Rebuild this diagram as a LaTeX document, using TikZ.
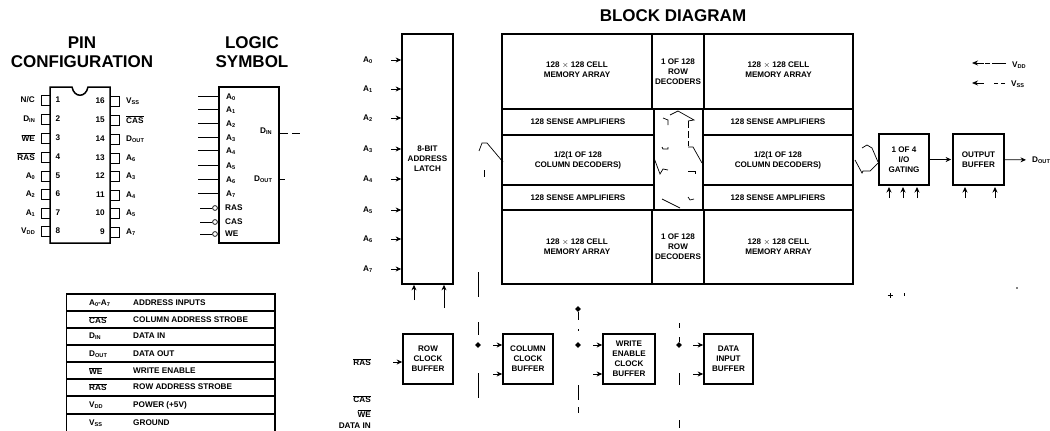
\documentclass[tikz,border=0pt]{standalone}
\usepackage{fontspec}
\setmainfont{Liberation Sans}
\usetikzlibrary{arrows.meta,calc,shapes.geometric}
\newcommand{\lo}[1]{\raisebox{-0.3ex}{\fontsize{5.6}{6}\selectfont #1}}
\newcommand{\ov}[1]{$\overline{\mbox{#1}}$}
\tikzset{
  txt/.style={font=\bfseries\fontsize{8.2}{10}\selectfont,inner sep=0pt,align=center},
  lab/.style={txt},
  ttl/.style={font=\bfseries\fontsize{17}{19}\selectfont,inner sep=0pt,align=center},
  cell/.style={draw,line width=1.7pt,inner sep=0pt,align=center,font=\bfseries\fontsize{8.1}{10}\selectfont},
  ic/.style={draw,line width=1.5pt,inner sep=0pt},
  arr/.style={line width=.8pt,-{Stealth[length=5.5pt,width=5pt]}},
  thin line/.style={line width=.5pt},
  frag/.style={line width=.7pt},
  brk/.style={line width=.5pt,dash pattern=on 7pt off 3pt},
  tdot/.style={diamond,fill,inner sep=0pt,minimum size=6pt},
}
\begin{document}
\begin{tikzpicture}[x=1pt,y=-1pt]
\path[use as bounding box,fill=white] (0,0) rectangle (1050,431);
% ---------- titles
\node[ttl] (tpin) at (82,52.5) {PIN\\CONFIGURATION};
\node[ttl] (tlog) at (252,52.5) {LOGIC\\SYMBOL};
\node[font=\bfseries\fontsize{17}{19}\selectfont,inner sep=0pt] (tblk) at (673,15.5) {BLOCK DIAGRAM};
% ---------- pin configuration
\draw[line width=1.5pt] (50,87) -- (72,87) .. controls (74,98) and (86,98) .. (88,87) -- (110,87) -- (110,243) -- (50,243) -- cycle;
\foreach \y/\n/\l in {100/1/N{/}C,119/2/D\lo{IN},138/3/\ov{WE},157/4/\ov{RAS},176/5/A\lo{0},194/6/A\lo{2},213/7/A\lo{1},231/8/V\lo{DD}}{
  \draw[line width=.8pt] (50,\y-5) -| (41.5,\y+5) -- (50,\y+5);
  \node[lab] (pn\n) at (58,\y) {\n};
  \node[lab,anchor=east] (pl\n) at (35,\y) {\l};
}
\foreach \y/\n/\l in {101/16/V\lo{SS},120/15/\ov{CAS},139/14/D\lo{OUT},158/13/A\lo{6},176/12/A\lo{3},195/11/A\lo{4},213/10/A\lo{5},232/9/A\lo{7}}{
  \draw[line width=.8pt] (110,\y-5) -| (119.5,\y+5) -- (110,\y+5);
  \node[lab,anchor=east] (pn\n) at (105,\y) {\n};
  \node[lab,anchor=west] (pl\n) at (126,\y) {\l};
}
% ---------- logic symbol
\node[ic,minimum width=60,minimum height=156] (logic) at (249,165) {};
\foreach \i/\y in {0/96,1/109,2/123,3/137,4/150,5/165,6/179,7/193}{
  \coordinate (li\i) at (198,\y);
  \draw[thin line] (li\i) -- (li\i -| logic.west);
  \node[lab,anchor=west] (ll\i) at (226,\y+1) {A\lo{\i}};
}
\foreach \n/\y in {RAS/208,CAS/222,WE/234}{
  \coordinate (lc\n) at (200,\y);
  \draw[thin line] (lc\n) -- (212,\y);
  \draw[line width=.7pt,fill=white] (215,\y) circle (2.4);
  \node[lab,anchor=west] (lt\n) at (225,\y) {\n};
}
\node[lab,anchor=west] (ldin) at (260,131) {D\lo{IN}};
\node[lab,anchor=west] (ldout) at (254,179) {D\lo{OUT}};
\coordinate (ldinE) at (303,133);
\coordinate (ldoutE) at (285,179);
\draw[thin line,dash pattern=on 8pt off 4pt] (logic.east |- ldinE) -- (ldinE);
\draw[thin line] (logic.east |- ldoutE) -- (ldoutE);
% ---------- pin table
\draw[line width=1.3pt] (66.5,431) -- (66.5,294) -- (275,294) -- (275,431);
\foreach \y in {311,328,345,362,379,396,414}{\draw[line width=1.2pt] (66.5,\y) -- (275,\y);}
\foreach \y/\a/\b in {303/A\lo{0}-A\lo{7}/ADDRESS INPUTS,320/\ov{CAS}/COLUMN ADDRESS STROBE,336/D\lo{IN}/DATA IN,354/D\lo{OUT}/DATA OUT,371/\ov{WE}/WRITE ENABLE,387/\ov{RAS}/ROW ADDRESS STROBE,405/V\lo{DD}/POWER (+5V),423/V\lo{SS}/GROUND}{
  \node[lab,anchor=west] at (89,\y) {\a};
  \node[lab,anchor=west] at (133,\y) {\b};
}
% ---------- address latch
\node[cell,minimum width=51,minimum height=250] (latch) at (427.5,159) {8-BIT\\ADDRESS\\LATCH};
\foreach \i/\y in {0/60,1/89,2/118,3/149,4/179,5/210,6/239,7/269}{
  \node[lab,anchor=west] (a\i) at (363,\y) {A\lo{\i}};
  \coordinate (at\i) at (391,\y);
  \draw[arr] (at\i) -- (at\i -| latch.west);
}
\coordinate (lu1) at (414,300);
\coordinate (lu2) at (444,308);
\draw[arr] (lu1) -- (lu1 |- latch.south);
\draw[arr] (lu2) -- (lu2 |- latch.south);
% ---------- memory block
\node[cell,minimum width=150,minimum height=75] (mTL) at (577,71.5) {128 $\times$ 128 CELL\\MEMORY ARRAY\\[-6pt]};
\node[cell,minimum width=52,minimum height=75] (dT) at (678,71.5) {1 OF 128\\ROW\\DECODERS};
\node[cell,minimum width=149,minimum height=75] (mTR) at (778.5,71.5) {128 $\times$ 128 CELL\\MEMORY ARRAY\\[-6pt]};
\node[cell,minimum width=152,minimum height=26] (sL1) at (578,122) {128 SENSE AMPLIFIERS};
\node[cell,minimum width=152,minimum height=50] (cL) at (578,160) {1/2(1 OF 128\\COLUMN DECODERS)};
\node[cell,minimum width=152,minimum height=25] (sL2) at (578,197.5) {128 SENSE AMPLIFIERS};
\node[cell,minimum width=150,minimum height=26] (sR1) at (778,122) {128 SENSE AMPLIFIERS};
\node[cell,minimum width=150,minimum height=50] (cR) at (778,160) {1/2(1 OF 128\\COLUMN DECODERS)};
\node[cell,minimum width=150,minimum height=25] (sR2) at (778,197.5) {128 SENSE AMPLIFIERS};
\node[cell,minimum width=150,minimum height=74] (mBL) at (577,247) {128 $\times$ 128 CELL\\MEMORY ARRAY};
\node[cell,minimum width=52,minimum height=74] (dB) at (678,247) {1 OF 128\\ROW\\DECODERS};
\node[cell,minimum width=149,minimum height=74] (mBR) at (778.5,247) {128 $\times$ 128 CELL\\MEMORY ARRAY};
% fragments of the faint wiring in the middle
\draw[frag] (670,115) -- (678,111) -- (694,120) -- (688,121);
\draw[brk] (688,121) -- (688,146);
\draw[frag] (688,147) -- (693,147) -- (702,163);
\draw[frag] (663,118) -- (668,120) -- (668,125);
\draw[frag] (662,147) -- (663,149) -- (668,149) -- (668,147);
\draw[frag] (654,158) -- (660,174) -- (663,169) -- (668,170);
\draw[frag] (688,171) -- (695,171) -- (695,174);
\draw[frag] (662,199) -- (680,208);
\draw[frag] (688,197) -- (690,200) -- (694,199);
\draw[frag] (479,151) -- (482,143) -- (487,143) -- (503,162);
\draw[frag] (484,170) -- (484,177);
% ---------- gating and output
\node[cell,minimum width=50,minimum height=51] (gate) at (904,159.5) {1 OF 4\\I/O\\GATING};
\node[cell,minimum width=51,minimum height=51] (obuf) at (978.5,159.5) {OUTPUT\\BUFFER};
\node[lab,anchor=west] (dout) at (1032,160) {D\lo{OUT}};
\draw[arr,shorten >=1pt] (gate) -- (obuf);
\draw[arr,shorten >=6pt] (obuf) -- (dout);
\draw[frag] (862,148) -- (867,145) -- (872,148) -- (878,162);
\draw[frag] (855,160) -- (862,173) -- (863,171) -- (870,171) -- (878,163);
\foreach \x in {889,903,917}{\coordinate (g\x) at (\x,198);\draw[arr] (g\x) -- (\x,187);}
\foreach \x in {965,995}{\coordinate (o\x) at (\x,198);\draw[arr] (o\x) -- (\x,187);}
% ---------- supplies
\node[lab,anchor=west] (vdd) at (1012,65) {V\lo{DD}};
\node[lab,anchor=west] (vss) at (1011,84) {V\lo{SS}};
\coordinate (vddh) at (972,63);
\coordinate (vssh) at (972,83);
\draw[line width=.6pt,dash pattern=on 14pt off 2pt on 5pt off 2pt on 8pt off 2pt] (vdd.west) ++(-6,-2) -- (983,63);
\draw[line width=.6pt,dash pattern=on 4pt off 3pt] (vss.west) ++(-6,-1) -- (992,83);
\draw[line width=.8pt,{Stealth[length=6pt,width=5pt]}-] (vddh) -- (984,63);
\draw[line width=.8pt,{Stealth[length=6pt,width=5pt]}-] (vssh) -- (984,83);
% ---------- clock buffers
\node[cell,minimum width=50,minimum height=50] (rbuf) at (428,359) {ROW\\CLOCK\\BUFFER};
\node[cell,minimum width=50,minimum height=50] (cbuf) at (528,359) {COLUMN\\CLOCK\\BUFFER};
\node[cell,minimum width=52,minimum height=50] (wbuf) at (629,359) {WRITE\\ENABLE\\CLOCK\\BUFFER};
\node[cell,minimum width=49,minimum height=50] (dbuf) at (728.5,359) {DATA\\INPUT\\BUFFER};
\node[lab,anchor=east] (ras) at (371,362) {\ov{RAS}};
\node[lab,anchor=east] (cas) at (371,399) {\ov{CAS}};
\node[lab,anchor=east] (we) at (371,413.5) {\ov{WE}};
\node[lab,anchor=east] (din) at (371,426) {DATA IN};
\coordinate (rr) at (393,362);
\draw[arr] (rr) -- (rr -| rbuf.west);
\node[tdot] (d1) at (478,345) {};
\node[tdot] (d2) at (578,345) {};
\node[tdot] (d3) at (679,345) {};
\node[tdot] (d4) at (578,309) {};
\foreach \b/\x in {cbuf/493,wbuf/593,dbuf/693}{
  \coordinate (\b a) at (\x,345);
  \coordinate (\b b) at (\x,374);
  \draw[arr] (\b a) -- (\b a -| \b.west);
  \draw[arr] (\b b) -- (\b b -| \b.west);
}
\draw[thin line] (d4) -- (578,320);
\foreach \x/\ya/\yb in {478/272/297,478/322/335,478/373/398,578/329/331,578/385/400,578/407/413,679/323/328,679/337/342,679/373/385,679/420/428}{
  \draw[thin line] (\x,\ya) -- (\x,\yb);
}
% specks at lower right
\draw[line width=.6pt] (890,293) -- (890,298) (887.5,295) -- (892.5,295) (904,293) -- (904,296);
\fill (1017,288) circle (.8);
\end{tikzpicture}
\end{document}
